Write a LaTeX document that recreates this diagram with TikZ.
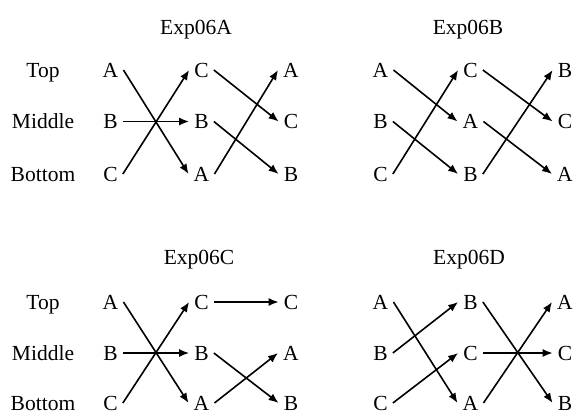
\documentclass[tikz,border=0pt]{standalone}
\usepackage{fontspec}
\setmainfont{Liberation Serif}
\usetikzlibrary{arrows.meta}
\begin{document}
\begin{tikzpicture}[x=1pt,y=-1pt,
  lt/.style={inner xsep=5pt, inner ysep=2pt, font=\fontsize{21.5}{24}\selectfont},
  lbl/.style={inner sep=0pt, anchor=base, font=\fontsize{21.5}{24}\selectfont},
  arr/.style={line width=1.6pt, -{Latex[length=10pt,width=8pt]}}]
\useasboundingbox (0,0) rectangle (574,416);
% titles
\node[lbl] (tA) at (196,34) {Exp06A};
\node[lbl] (tB) at (468,34) {Exp06B};
\node[lbl] (tC) at (199,264) {Exp06C};
\node[lbl] (tD) at (469,264) {Exp06D};
% row labels
\node[lbl] (rt1) at (43,77) {Top};
\node[lbl] (rm1) at (43,128.5) {Middle};
\node[lbl] (rb1) at (43,181) {Bottom};
\node[lbl] (rt2) at (43,309) {Top};
\node[lbl] (rm2) at (43,360) {Middle};
\node[lbl] (rb2) at (43,410) {Bottom};
% ---- Exp06A
\node[lt] (a11) at (110.5,70) {A};
\node[lt] (a12) at (110.5,121.5) {B};
\node[lt] (a13) at (110.5,174) {C};
\node[lt] (a21) at (201.5,70) {C};
\node[lt] (a22) at (201.5,121.5) {B};
\node[lt] (a23) at (201.5,174) {A};
\node[lt] (a31) at (291,70) {A};
\node[lt] (a32) at (291,121.5) {C};
\node[lt] (a33) at (291,174) {B};
\draw[arr] (a11.east) -- (a23.west);
\draw[arr] (a12.east) -- (a22.west);
\draw[arr] (a13.east) -- (a21.west);
\draw[arr] (a21.east) -- (a32.west);
\draw[arr] (a22.east) -- (a33.west);
\draw[arr] (a23.east) -- (a31.west);
% ---- Exp06B
\node[lt] (b11) at (380.5,70) {A};
\node[lt] (b12) at (380.5,121.5) {B};
\node[lt] (b13) at (380.5,174) {C};
\node[lt] (b21) at (470.5,70) {C};
\node[lt] (b22) at (470.5,121.5) {A};
\node[lt] (b23) at (470.5,174) {B};
\node[lt] (b31) at (565,70) {B};
\node[lt] (b32) at (565,121.5) {C};
\node[lt] (b33) at (565,174) {A};
\draw[arr] (b11.east) -- (b22.west);
\draw[arr] (b12.east) -- (b23.west);
\draw[arr] (b13.east) -- (b21.west);
\draw[arr] (b21.east) -- (b32.west);
\draw[arr] (b22.east) -- (b33.west);
\draw[arr] (b23.east) -- (b31.west);
% ---- Exp06C
\node[lt] (c11) at (110.5,302) {A};
\node[lt] (c12) at (110.5,353) {B};
\node[lt] (c13) at (110.5,403) {C};
\node[lt] (c21) at (201.5,302) {C};
\node[lt] (c22) at (201.5,353) {B};
\node[lt] (c23) at (201.5,403) {A};
\node[lt] (c31) at (291,302) {C};
\node[lt] (c32) at (291,353) {A};
\node[lt] (c33) at (291,403) {B};
\draw[arr] (c11.east) -- (c23.west);
\draw[arr] (c12.east) -- (c22.west);
\draw[arr] (c13.east) -- (c21.west);
\draw[arr] (c21.east) -- (c31.west);
\draw[arr] (c22.east) -- (c33.west);
\draw[arr] (c23.east) -- (c32.west);
% ---- Exp06D
\node[lt] (d11) at (380.5,302) {A};
\node[lt] (d12) at (380.5,353) {B};
\node[lt] (d13) at (380.5,403) {C};
\node[lt] (d21) at (470.5,302) {B};
\node[lt] (d22) at (470.5,353) {C};
\node[lt] (d23) at (470.5,403) {A};
\node[lt] (d31) at (565,302) {A};
\node[lt] (d32) at (565,353) {C};
\node[lt] (d33) at (565,403) {B};
\draw[arr] (d11.east) -- (d23.west);
\draw[arr] (d12.east) -- (d21.west);
\draw[arr] (d13.east) -- (d22.west);
\draw[arr] (d21.east) -- (d33.west);
\draw[arr] (d22.east) -- (d32.west);
\draw[arr] (d23.east) -- (d31.west);
\end{tikzpicture}
\end{document}
